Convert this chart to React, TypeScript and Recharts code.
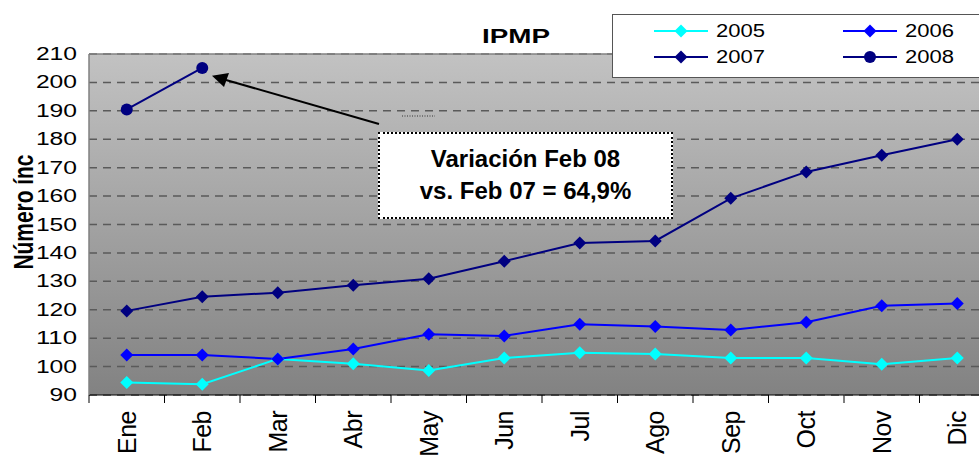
import React from 'react';
import { LineChart, Line, XAxis, YAxis, CartesianGrid, Legend, ReferenceLine } from 'recharts';

const months = ['Ene', 'Feb', 'Mar', 'Abr', 'May', 'Jun', 'Jul', 'Ago', 'Sep', 'Oct', 'Nov', 'Dic'];
const s2005 = [94.4, 93.8, 102.7, 101, 98.6, 103, 104.9, 104.4, 103, 103, 100.8, 103];
const s2006 = [104.1, 104.1, 102.7, 106.2, 111.4, 110.8, 114.9, 114.1, 112.9, 115.6, 121.4, 122.2];
const s2007 = [119.6, 124.6, 126, 128.6, 130.9, 137.1, 143.5, 144.2, 159.2, 168.5, 174.4, 180];
const s2008: (number | null)[] = [190.5, 205.1, null, null, null, null, null, null, null, null, null, null];
const yTicks = [90, 100, 110, 120, 130, 140, 150, 160, 170, 180, 190, 200, 210];
const xTicks = Array.from({ length: 25 }, (_, i) => i / 2);

const FONT = '"Liberation Sans", Arial, sans-serif';

const series = [
  { key: 'y2005', name: '2005', color: '#00ffff', shape: 'diamond' },
  { key: 'y2006', name: '2006', color: '#0000ff', shape: 'diamond' },
  { key: 'y2007', name: '2007', color: '#000080', shape: 'diamond' },
  { key: 'y2008', name: '2008', color: '#000080', shape: 'circle' },
];

const data = months.map((m, i) => ({
  pos: i + 0.5,
  month: m,
  y2005: s2005[i],
  y2006: s2006[i],
  y2007: s2007[i],
  y2008: s2008[i],
}));

const makeDot = (color: string, shape: string) => (props: any) => {
  const { cx, cy, index } = props;
  if (cx == null || cy == null || props.value == null) return <g key={`d${index}`} />;
  if (shape === 'circle') return <circle key={`d${index}`} cx={cx} cy={cy} r={6} fill={color} />;
  const h = 6.5;
  return (
    <polygon
      key={`d${index}`}
      points={`${cx},${cy - h} ${cx + h},${cy} ${cx},${cy + h} ${cx - h},${cy}`}
      fill={color}
    />
  );
};

const XTick = (props: any) => {
  const { x, y, payload } = props;
  const v = payload.value;
  if (Number.isInteger(v)) {
    return <line x1={x} x2={x} y1={y} y2={y + 8} stroke="#000" strokeWidth={1} />;
  }
  const label = months[Math.floor(v)];
  return (
    <text
      transform={`translate(${x + 9},${y + 16}) rotate(-90)`}
      textAnchor="end"
      fontSize={25}
      fontFamily={FONT}
      fill="#000"
      letterSpacing={-0.5}
    >
      {label}
    </text>
  );
};

const YTick = (props: any) => {
  const { x, y, payload } = props;
  const s = String(payload.value);
  return (
    <text
      x={x}
      y={y}
      textAnchor="end"
      dominantBaseline="central"
      fontSize={18}
      fontFamily={FONT}
      fill="#000"
      textLength={s.length * 13.7}
      lengthAdjust="spacingAndGlyphs"
    >
      {s}
    </text>
  );
};

const renderLegend = () => {
  const cols = [0, 189];
  const rows = [17, 43];
  return (
    <svg width={400} height={64} style={{ display: 'block' }}>
      <rect x={0.5} y={0.5} width={398} height={63} fill="#fff" stroke="#555" strokeWidth={1} />
      {series.map((s, i) => {
        const ox = cols[i % 2];
        const oy = rows[Math.floor(i / 2)];
        const mx = ox + 69;
        return (
          <g key={s.key}>
            <line x1={ox + 42} x2={ox + 96} y1={oy} y2={oy} stroke={s.color} strokeWidth={2} />
            {s.shape === 'circle' ? (
              <circle cx={mx} cy={oy} r={6} fill={s.color} />
            ) : (
              <polygon
                points={`${mx},${oy - 6.5} ${mx + 6.5},${oy} ${mx},${oy + 6.5} ${mx - 6.5},${oy}`}
                fill={s.color}
              />
            )}
            <text
              x={ox + 104}
              y={oy}
              dominantBaseline="central"
              fontSize={18}
              fontFamily={FONT}
              fill="#000"
              textLength={49}
              lengthAdjust="spacingAndGlyphs"
            >
              {s.name}
            </text>
          </g>
        );
      })}
    </svg>
  );
};

export default function App() {
  return (
    <div
      style={{
        position: 'absolute',
        left: 0,
        top: 0,
        width: 979,
        height: 460,
        overflow: 'hidden',
        background: '#fff',
      }}
    >
      <LineChart
        width={1010}
        height={460}
        data={data}
        margin={{ top: 54, right: 15, left: 0, bottom: 0 }}
      >
        <defs>
          <linearGradient id="plotBg" x1="0" y1="0" x2="0" y2="1">
            <stop offset="0%" stopColor="#c2c2c2" />
            <stop offset="100%" stopColor="#828282" />
          </linearGradient>
        </defs>
        <CartesianGrid
          fill="url(#plotBg)"
          vertical={false}
          stroke="#5a5a5a"
          strokeWidth={1.5}
          strokeDasharray="8 6"
        />
        <XAxis
          dataKey="pos"
          type="number"
          domain={[0, 12]}
          ticks={xTicks}
          interval={0}
          tickLine={false}
          tickSize={0}
          tickMargin={0}
          axisLine={{ stroke: '#000', strokeWidth: 1 }}
          height={65}
          tick={<XTick />}
        />
        <YAxis
          type="number"
          domain={[90, 210]}
          ticks={yTicks}
          interval={0}
          width={89}
          tickLine={false}
          tickSize={0}
          tickMargin={12}
          axisLine={{ stroke: '#808080', strokeWidth: 1.5 }}
          tick={<YTick />}
          label={{
            content: () => (
              <text
                transform="translate(33,212) rotate(-90)"
                textAnchor="middle"
                fontSize={27}
                fontWeight="bold"
                fontFamily={FONT}
                fill="#000"
                textLength={115}
                lengthAdjust="spacingAndGlyphs"
              >
                Número ínc
              </text>
            ),
          }}
        />
        <ReferenceLine y={210} stroke="#808080" strokeWidth={1.5} />
        {series.map((s) => (
          <Line
            key={s.key}
            dataKey={s.key}
            name={s.name}
            stroke={s.color}
            strokeWidth={2}
            dot={makeDot(s.color, s.shape)}
            activeDot={false}
            isAnimationActive={false}
          />
        ))}
        <Legend
          layout="vertical"
          align="center"
          verticalAlign="middle"
          wrapperStyle={{ position: 'absolute', left: 612, top: 14, width: 400, height: 64 }}
          content={renderLegend}
        />
      </LineChart>
      <svg
        width={979}
        height={460}
        style={{ position: 'absolute', left: 0, top: 0, pointerEvents: 'none' }}
      >
        <text
          x={482}
          y={43}
          fontSize={20}
          fontWeight="bold"
          fontFamily={FONT}
          fill="#000"
          textLength={68}
          lengthAdjust="spacingAndGlyphs"
        >
          IPMP
        </text>
        <line x1={379} y1={124} x2={226} y2={80} stroke="#000" strokeWidth={2} />
        <polygon points="212,75.7 229,73 224,87" fill="#000" />
        <line x1={402} y1={116} x2={435} y2={116} stroke="#333" strokeWidth={1} strokeDasharray="1 1.5" />
      </svg>
      <div
        style={{
          position: 'absolute',
          left: 378,
          top: 132,
          width: 295,
          height: 87,
          boxSizing: 'border-box',
          background: '#fff',
          border: '2px dotted #000',
          paddingTop: 9,
          fontFamily: FONT,
          fontWeight: 'bold',
          fontSize: 24,
          lineHeight: '32px',
          textAlign: 'center',
          color: '#000',
        }}
      >
        <div>Variación Feb 08</div>
        <div>vs. Feb 07 = 64,9%</div>
      </div>
    </div>
  );
}
